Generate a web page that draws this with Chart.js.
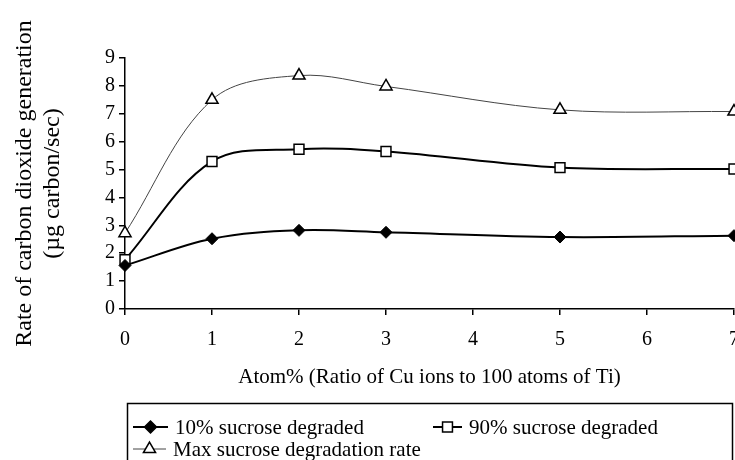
<!DOCTYPE html>
<html>
<head>
<meta charset="utf-8">
<script src="https://cdn.jsdelivr.net/npm/chart.js@4"></script>
<style>
  html, body { margin: 0; padding: 0; background: #fff; overflow: hidden; }
  #wrap { width: 760px; height: 460px; }
</style>
</head>
<body>
<div id="wrap"><canvas id="chart" width="760" height="460"></canvas></div>
<script>
'use strict';

// Cu content (atom%) and measured CO2 rates
const atomPercent = [0, 1, 2, 3, 5, 7];
const rate10 = [1.56, 2.52, 2.82, 2.75, 2.58, 2.63];
const rate90 = [1.77, 5.29, 5.73, 5.65, 5.07, 5.02];
const rateMax = [2.72, 7.5, 8.37, 7.98, 7.14, 7.08];
const seriesNames = ['10% sucrose degraded', '90% sucrose degraded', 'Max sucrose degradation rate'];
const xTicks = [0, 1, 2, 3, 4, 5, 6, 7];
const yTicks = [0, 1, 2, 3, 4, 5, 6, 7, 8, 9];

const serif = "'Liberation Serif', 'Times New Roman', serif";
Chart.defaults.font.family = serif;
Chart.defaults.color = '#000';

function toPoints(values) {
  return values.map((v, i) => ({ x: atomPercent[i], y: v }));
}

// Little marker drawer for the boxed legend
function drawMarker(ctx, style, x, y, r, filled) {
  ctx.beginPath();
  if (style === 'rectRot') {
    ctx.moveTo(x, y - r); ctx.lineTo(x + r, y); ctx.lineTo(x, y + r); ctx.lineTo(x - r, y);
  } else if (style === 'rect') {
    const s = r * Math.SQRT1_2;
    ctx.rect(x - s, y - s, 2 * s, 2 * s);
  } else {
    const h = r * 1.5;
    ctx.moveTo(x, y - r); ctx.lineTo(x + h / Math.sqrt(3), y + r / 2); ctx.lineTo(x - h / Math.sqrt(3), y + r / 2);
  }
  ctx.closePath();
  if (filled) { ctx.fillStyle = '#000'; ctx.fill(); } else { ctx.fillStyle = '#fff'; ctx.fill(); }
  ctx.stroke();
}

const boxLegend = {
  id: 'boxLegend',
  afterDraw(chart) {
    const ctx = chart.ctx;
    ctx.save();
    ctx.strokeStyle = '#000';
    ctx.lineWidth = 1.5;
    ctx.strokeRect(127.5, 403.5, 605, 80);
    const items = [
      { x: 133, y: 427, len: 35, ds: 0 },
      { x: 433, y: 427, len: 29, ds: 1 },
      { x: 133, y: 449, len: 33, ds: 2 }
    ];
    ctx.font = '21px ' + serif;
    ctx.textBaseline = 'middle';
    items.forEach(it => {
      const ds = chart.data.datasets[it.ds];
      ctx.strokeStyle = ds.borderColor;
      ctx.lineWidth = ds.borderWidth;
      ctx.beginPath();
      ctx.moveTo(it.x, it.y);
      ctx.lineTo(it.x + it.len, it.y);
      ctx.stroke();
      ctx.strokeStyle = '#000';
      ctx.lineWidth = 1.5;
      drawMarker(ctx, ds.pointStyle, it.x + it.len / 2, it.y, ds.pointRadius, ds.pointBackgroundColor === '#000');
      ctx.fillStyle = '#000';
      ctx.fillText(ds.label, it.x + it.len + 7, it.y + 1);
    });
    ctx.restore();
  }
};

new Chart(document.getElementById('chart'), {
  type: 'line',
  data: {
    datasets: [
      {
        label: seriesNames[0],
        data: toPoints(rate10),
        borderColor: '#000',
        borderWidth: 2,
        pointStyle: 'rectRot',
        pointRadius: 6,
        pointBackgroundColor: '#000',
        pointBorderColor: '#000',
        pointBorderWidth: 1,
        tension: 0.35,
        clip: false
      },
      {
        label: seriesNames[1],
        data: toPoints(rate90),
        borderColor: '#000',
        borderWidth: 2,
        pointStyle: 'rect',
        pointRadius: 7,
        pointBackgroundColor: '#fff',
        pointBorderColor: '#000',
        pointBorderWidth: 1.5,
        tension: 0.35,
        clip: false
      },
      {
        label: seriesNames[2],
        data: toPoints(rateMax),
        borderColor: '#444',
        borderWidth: 1,
        pointStyle: 'triangle',
        pointRadius: 7,
        pointBackgroundColor: '#fff',
        pointBorderColor: '#000',
        pointBorderWidth: 1.5,
        tension: 0.35,
        clip: false
      }
    ]
  },
  options: {
    responsive: false,
    animation: false,
    layout: { padding: { left: 0, right: 26, top: 58, bottom: 60 } },
    plugins: { legend: { display: false }, tooltip: { enabled: false } },
    scales: {
      x: {
        type: 'linear',
        min: 0,
        max: 7,
        afterBuildTicks: (scale) => { scale.ticks = xTicks.map(v => ({ value: v })); },
        afterFit: (scale) => { scale.height = 91; },
        ticks: { font: { size: 20 }, padding: 13, color: '#000' },
        grid: { drawOnChartArea: false, tickLength: 6, color: '#000', lineWidth: 1.5 },
        border: { color: '#000', width: 1.5 },
        title: {
          display: true,
          text: 'Atom% (Ratio of Cu ions to 100 atoms of Ti)',
          font: { size: 21 },
          color: '#000',
          padding: { top: 0, bottom: 10 }
        }
      },
      y: {
        min: 0,
        max: 9,
        afterBuildTicks: (scale) => { scale.ticks = yTicks.map(v => ({ value: v })); },
        afterFit: (scale) => { scale.width = 125; },
        ticks: { font: { size: 20 }, padding: 4, color: '#000' },
        grid: { drawOnChartArea: false, tickLength: 6, color: '#000', lineWidth: 1.5 },
        border: { color: '#000', width: 1.5 },
        title: {
          display: true,
          text: ['Rate of carbon dioxide generation', '(\u00b5g carbon/sec)'],
          font: { size: 24, lineHeight: 1.2 },
          color: '#000',
          padding: { top: 10, bottom: 0 }
        }
      }
    }
  },
  plugins: [boxLegend]
});
</script>
</body>
</html>
